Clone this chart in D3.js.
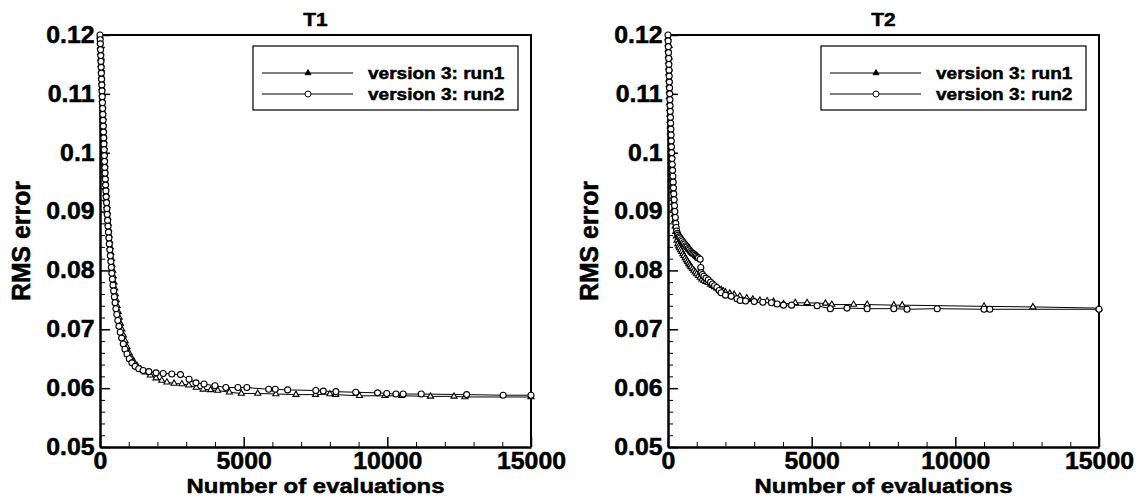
<!DOCTYPE html>
<html>
<head>
<meta charset="utf-8">
<script src="https://cdn.jsdelivr.net/npm/d3@7"></script>
<style>
  body { margin: 0; background: #fff; }
  text { font-family: "Liberation Sans", Arial, sans-serif; font-weight: bold; fill: #000; stroke: #000; stroke-width: 0.5px; }
</style>
</head>
<body>
<div id="chart"></div>
<script>
// values
const xMajor = [0, 5000, 10000, 15000]
const xMinor = d3.range(1000, 15000, 1000).filter(v => v % 5000 !== 0)
const yMajor = [0.05, 0.06, 0.07, 0.08, 0.09, 0.1, 0.11, 0.12]
const yMinor = d3.range(0.052, 0.12, 0.002).filter(v => Math.abs(v * 100 - Math.round(v * 100)) > 1e-6)
const seriesNames = ['version 3: run1', 'version 3: run2']

const t1Run1 = [[0,0.1198],[8,0.1188],[15,0.118],[22,0.117],[30,0.116],[38,0.115],[45,0.114],[52,0.113],[60,0.112],[67,0.111],[75,0.11],[82,0.109],[90,0.108],[97,0.107],[105,0.106],[112,0.105],[120,0.104],[127,0.103],[135,0.102],[142,0.101],[150,0.1],[158,0.099],[165,0.098],[172,0.097],[180,0.096],[190,0.095],[200,0.094],[212,0.093],[225,0.092],[240,0.091],[255,0.09],[270,0.089],[285,0.088],[300,0.087],[318,0.086],[335,0.085],[355,0.084],[375,0.083],[395,0.082],[415,0.081],[440,0.08],[462,0.079],[485,0.078],[510,0.077],[535,0.076],[565,0.075],[595,0.074],[630,0.073],[668,0.072],[710,0.071],[760,0.07],[815,0.069],[875,0.068],[940,0.067],[1010,0.066],[1090,0.0652],[1180,0.0645],[1290,0.0638],[1420,0.0632],[1580,0.0627],[1750,0.0622],[1950,0.0617],[2150,0.0613],[2330,0.061],[2580,0.0608],[2850,0.0607],[3090,0.0605],[3350,0.0601],[3590,0.0598],[3850,0.0597],[4100,0.0596],[4500,0.0593],[4920,0.0591],[5490,0.0591],[6120,0.059],[6820,0.0589],[7500,0.0589],[8000,0.059],[8200,0.0589],[9030,0.0587],[9920,0.0587],[10500,0.0587],[11500,0.0586],[12320,0.0586],[12700,0.0585],[15000,0.0585]]
const t1Run2 = [[0,0.12],[6,0.1192],[12,0.1185],[19,0.1175],[26,0.1165],[33,0.1155],[40,0.1145],[48,0.1135],[55,0.1125],[62,0.1115],[70,0.1105],[78,0.1095],[85,0.1085],[93,0.1075],[100,0.1065],[108,0.1055],[115,0.1045],[122,0.1035],[130,0.1025],[138,0.1015],[145,0.1005],[152,0.0995],[160,0.0985],[168,0.0975],[175,0.0965],[185,0.0955],[195,0.0945],[205,0.0935],[215,0.0925],[228,0.0915],[240,0.0905],[252,0.0895],[265,0.0885],[280,0.0875],[295,0.0865],[310,0.0855],[325,0.0845],[342,0.0835],[360,0.0825],[378,0.0815],[395,0.0805],[412,0.0795],[430,0.0785],[452,0.0775],[475,0.0765],[500,0.0755],[525,0.0745],[555,0.0735],[585,0.0725],[620,0.0715],[660,0.0705],[705,0.0695],[755,0.0685],[810,0.0675],[870,0.0666],[940,0.0658],[1020,0.065],[1110,0.0643],[1220,0.0637],[1350,0.0633],[1500,0.063],[1700,0.0628],[1950,0.0626],[2200,0.0625],[2500,0.0624],[2800,0.0623],[3100,0.0615],[3340,0.0609],[3620,0.0607],[4000,0.0604],[4380,0.0601],[4800,0.0601],[5110,0.0601],[5870,0.0598],[6100,0.0598],[6530,0.0597],[7510,0.0596],[7770,0.0595],[8210,0.0594],[8900,0.0593],[9660,0.0592],[9980,0.0591],[10300,0.059],[10550,0.059],[11180,0.059],[12760,0.0589],[14030,0.0588],[15000,0.0588]]
const t2Run1 = [[0,0.1195],[5,0.1185],[10,0.1175],[15,0.1165],[20,0.1155],[25,0.1145],[30,0.1135],[35,0.1125],[40,0.1115],[45,0.1105],[50,0.1095],[55,0.1085],[60,0.1075],[65,0.1065],[70,0.1055],[78,0.1045],[85,0.1035],[92,0.1025],[100,0.1015],[108,0.1005],[115,0.0995],[122,0.0985],[130,0.0975],[140,0.0965],[150,0.0955],[160,0.0945],[170,0.0935],[182,0.0925],[195,0.0915],[208,0.0905],[220,0.0895],[235,0.0885],[250,0.0875],[270,0.0866],[290,0.0858],[315,0.0851],[340,0.0845],[370,0.0841],[400,0.0838],[440,0.0835],[480,0.0832],[520,0.0828],[560,0.0825],[600,0.0821],[640,0.0818],[680,0.0815],[720,0.0812],[760,0.0809],[800,0.0806],[850,0.0803],[900,0.08],[950,0.0797],[1000,0.0794],[1060,0.0791],[1120,0.0788],[1180,0.0785],[1250,0.0783],[1320,0.0781],[1400,0.0779],[1480,0.0776],[1550,0.0774],[1620,0.0772],[1700,0.077],[1770,0.0768],[1850,0.0767],[1920,0.0765],[2000,0.0763],[2150,0.0761],[2300,0.0759],[2500,0.0756],[2740,0.0753],[2950,0.0751],[3200,0.0749],[3450,0.0748],[3670,0.0747],[4020,0.0743],[4430,0.0745],[4840,0.0745],[5480,0.0744],[5700,0.0742],[6460,0.0742],[6930,0.0742],[7860,0.0741],[8150,0.0741],[11000,0.0739],[12700,0.0738],[15000,0.0736]]
const t2Run2 = [[0,0.12],[6,0.119],[12,0.118],[18,0.117],[24,0.116],[30,0.115],[36,0.114],[42,0.113],[48,0.112],[54,0.111],[60,0.11],[66,0.109],[72,0.108],[79,0.107],[86,0.106],[93,0.105],[100,0.104],[108,0.103],[115,0.102],[122,0.101],[130,0.1],[140,0.099],[150,0.098],[160,0.097],[170,0.096],[180,0.095],[190,0.094],[202,0.093],[215,0.092],[228,0.091],[240,0.09],[255,0.089],[270,0.088],[285,0.0873],[300,0.0867],[325,0.0863],[350,0.086],[385,0.0857],[420,0.0855],[460,0.0852],[500,0.085],[540,0.0847],[580,0.0845],[620,0.0842],[660,0.084],[700,0.0837],[740,0.0835],[780,0.0832],[820,0.083],[860,0.0829],[900,0.0828],[940,0.0826],[980,0.0824],[1020,0.0822],[1060,0.0821],[1120,0.0819],[1140,0.0805],[1150,0.0796],[1200,0.0793],[1250,0.079],[1320,0.0787],[1400,0.0784],[1480,0.078],[1550,0.0777],[1620,0.0774],[1700,0.0771],[1780,0.0766],[1850,0.0762],[2000,0.0758],[2200,0.0756],[2400,0.0752],[2510,0.0749],[2700,0.0748],[3000,0.0747],[3300,0.0746],[3600,0.0745],[3800,0.0743],[4020,0.0741],[4300,0.0741],[5190,0.074],[5650,0.0735],[6230,0.0736],[6930,0.0735],[7860,0.0735],[8320,0.0734],[9370,0.0735],[11000,0.0734],[11200,0.0734],[15000,0.0734]]

const panels = [
  { title: 'T1', left: 100, runs: [t1Run1, t1Run2] },
  { title: 'T2', left: 668, runs: [t2Run1, t2Run2] }
]

const width = 1140
const height = 504
const plotW = 431
const plotTop = 35
const plotBottom = 447
const font = '"Liberation Sans", Arial, sans-serif'

const svg = d3.select('#chart').append('svg')
  .attr('width', width)
  .attr('height', height)

const triangle = d3.symbol().type(d3.symbolTriangle).size(16)

panels.forEach(p => {
  const x = d3.scaleLinear().domain([0, 15000]).range([p.left, p.left + plotW])
  const y = d3.scaleLinear().domain([0.05, 0.12]).range([plotBottom, plotTop])
  const g = svg.append('g')

  // frame top / right
  g.append('path')
    .attr('d', `M${x(0)},${y(0.12)}H${x(15000)}V${y(0.05)}`)
    .attr('fill', 'none').attr('stroke', '#000').attr('stroke-width', 2)

  // minor ticks
  g.append('g').attr('transform', `translate(0,${plotBottom})`)
    .call(d3.axisBottom(x).tickValues(xMinor).tickSize(-5).tickSizeOuter(0).tickFormat(''))
    .call(a => a.select('.domain').remove())
  g.append('g').attr('transform', `translate(${p.left},0)`)
    .call(d3.axisLeft(y).tickValues(yMinor).tickSize(-5).tickSizeOuter(0).tickFormat(''))
    .call(a => a.select('.domain').remove())

  // major axes
  const xa = g.append('g').attr('transform', `translate(0,${plotBottom})`)
    .call(d3.axisBottom(x).tickValues(xMajor).tickSize(-10).tickSizeOuter(0).tickPadding(5).tickFormat(d3.format('d')))
  const ya = g.append('g').attr('transform', `translate(${p.left},0)`)
    .call(d3.axisLeft(y).tickValues(yMajor).tickSize(-10).tickSizeOuter(0).tickPadding(5)
      .tickFormat(d => d === 0.05 ? '0.05' : String(+d.toFixed(2))))
  ;[xa, ya].forEach(a => {
    a.select('.domain').attr('stroke-width', 2.5)
    a.selectAll('.tick line').attr('stroke-width', 1.5)
    a.selectAll('.tick text')
      .style('font-size', '23px')
      .style('font-family', font)
      .style('font-weight', 'bold')
      .attr('fill', '#000')
      .attr('transform', 'scale(1.08,1)')
  })
  xa.selectAll('.tick text').attr('dy', '0.72em')

  // lines
  const line = d3.line().x(d => x(d[0])).y(d => y(d[1]))
  p.runs.forEach(run => {
    g.append('path').datum(run)
      .attr('d', line)
      .attr('fill', 'none')
      .attr('stroke', '#000')
      .attr('stroke-width', 1)
  })
  // markers
  g.append('g').selectAll('path').data(p.runs[0]).join('path')
    .attr('d', triangle)
    .attr('transform', d => `translate(${x(d[0])},${y(d[1])})`)
    .attr('fill', '#fff').attr('stroke', '#000').attr('stroke-width', 1.1)
  g.append('g').selectAll('circle').data(p.runs[1]).join('circle')
    .attr('cx', d => x(d[0])).attr('cy', d => y(d[1])).attr('r', 3)
    .attr('fill', '#fff').attr('stroke', '#000').attr('stroke-width', 1.1)

  // title and axis labels
  const cx = p.left + plotW / 2
  g.append('text').attr('transform', `translate(${cx},26) scale(1.1,1)`)
    .attr('text-anchor', 'middle').style('font-size', '19px').text(p.title)
  g.append('text').attr('transform', `translate(${cx},493) scale(1.14,1)`)
    .attr('text-anchor', 'middle').style('font-size', '21px').text('Number of evaluations')
  g.append('text').attr('transform', `translate(${p.left - 70},${(plotTop + plotBottom) / 2}) rotate(-90) scale(1.08,1.1)`)
    .attr('text-anchor', 'middle').style('font-size', '23px').text('RMS error')

  // legend
  const lx = p.left + plotW - 13 - 265
  const leg = g.append('g').attr('transform', `translate(${lx},46)`)
  leg.append('rect').attr('width', 265).attr('height', 64)
    .attr('fill', '#fff').attr('stroke', '#000').attr('stroke-width', 1.2)
  seriesNames.forEach((name, i) => {
    const ly = 27 + i * 21
    leg.append('line').attr('x1', 9).attr('x2', 100).attr('y1', ly).attr('y2', ly)
      .attr('stroke', '#000').attr('stroke-width', 1)
    if (i === 0) {
      leg.append('path').attr('d', triangle).attr('transform', `translate(55,${ly})`)
        .attr('fill', '#000').attr('stroke', '#000').attr('stroke-width', 0.8)
    } else {
      leg.append('circle').attr('cx', 55).attr('cy', ly).attr('r', 3)
        .attr('fill', '#fff').attr('stroke', '#000').attr('stroke-width', 1)
    }
    leg.append('text').attr('transform', `translate(115,${ly + 6}) scale(1.12,1)`)
      .style('font-size', '17px').text(name)
  })
})
</script>
</body>
</html>
